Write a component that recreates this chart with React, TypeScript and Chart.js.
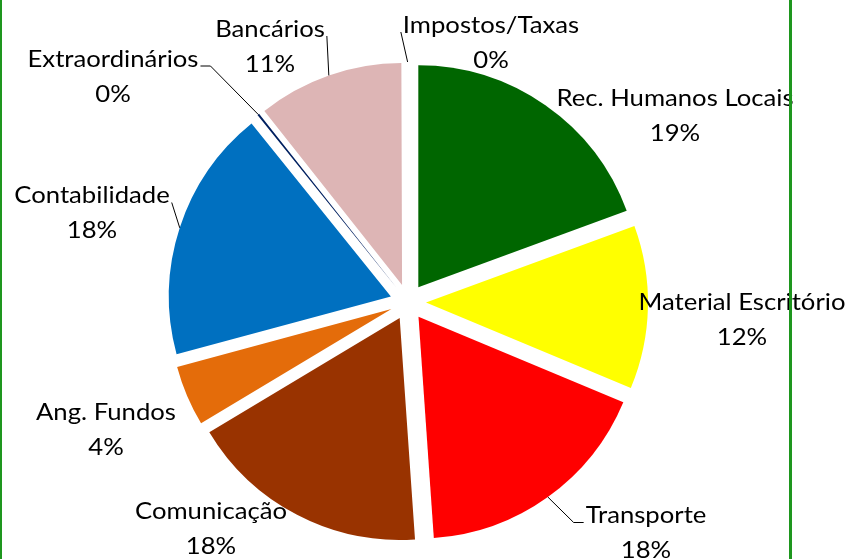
import React, { useEffect, useRef } from 'react';
import { Chart, registerables } from 'chart.js';

Chart.register(...registerables);

// ---- data ----
const categories = [
  'Rec. Humanos Locais',
  'Material Escritório',
  'Transporte',
  'Comunicação',
  'Ang. Fundos',
  'Contabilidade',
  'Extraordinários',
  'Bancários',
  'Impostos/Taxas',
];
const values = [19.4, 11.9, 17.6, 17.5, 4.4, 18.4, 0.15, 10.6, 0.05];
const colors = ['#006600', '#FFFF00', '#FF0000', '#993300', '#E46C0A', '#0070C0', '#002060', '#DDB5B5', '#FFFFFF'];

// ---- layout ----
const EXPLODE = 18;
const RADIUS = 222;
const LABEL_OFFSETS: number[][] = [
  [267, -186],
  [334, 18],
  [238, 231],
  [-197, 227],
  [-302, 128],
  [-316, -89],
  [-295, -225.5],
  [-138, -255.5],
  [83, -259.5],
];
// 0 none, 1 straight leader, 2 leader with horizontal stub
const LEADER = [0, 0, 2, 0, 0, 1, 2, 1, 1];
const FONT = '24px Lato';
const LINE_GAP = 35;
const TEXT_SX = 1.07;
const FRAME_COLOR = '#1E961E';

const explodePlugin = {
  id: 'explodePie',
  beforeDatasetDraw(chart: any, args: any) {
    const ctx = chart.ctx;
    args.meta.data.forEach((arc: any) => {
      const p = arc.getProps(['startAngle', 'endAngle'], true);
      const mid = (p.startAngle + p.endAngle) / 2;
      ctx.save();
      ctx.translate(Math.cos(mid) * EXPLODE, Math.sin(mid) * EXPLODE);
      arc.draw(ctx);
      ctx.restore();
    });
    return false;
  },
  afterDatasetsDraw(chart: any) {
    const ctx = chart.ctx;
    const meta = chart.getDatasetMeta(0);
    const total = values.reduce((a, b) => a + b, 0);
    meta.data.forEach((arc: any, i: number) => {
      const { x, y, startAngle, endAngle, outerRadius } = arc.getProps(
        ['x', 'y', 'startAngle', 'endAngle', 'outerRadius'],
        true
      );
      const mid = (startAngle + endAngle) / 2;
      const ax = x + Math.cos(mid) * (outerRadius + EXPLODE);
      const ay = y + Math.sin(mid) * (outerRadius + EXPLODE);
      const cx = x + LABEL_OFFSETS[i][0];
      const cy = y + LABEL_OFFSETS[i][1];
      const l1y = cy - LINE_GAP / 2;
      const l2y = cy + LINE_GAP / 2;
      const name = categories[i];
      const pct = Math.round((values[i] / total) * 100) + '%';
      ctx.save();
      ctx.font = FONT;
      ctx.fillStyle = '#000';
      ctx.textAlign = 'center';
      ctx.textBaseline = 'middle';
      const drawText = (t: string, tx: number, ty: number) => {
        ctx.save();
        ctx.translate(tx, ty);
        ctx.scale(TEXT_SX, 1);
        ctx.fillText(t, 0, 0);
        ctx.restore();
      };
      drawText(name, cx, l1y);
      drawText(pct, cx, l2y);
      if (LEADER[i]) {
        const w = ctx.measureText(name).width * TEXT_SX;
        const right = ax > cx;
        const sx = right ? cx + w / 2 + 2 : cx - w / 2 - 2;
        const sy = l1y + 7;
        ctx.beginPath();
        ctx.moveTo(sx, sy);
        if (LEADER[i] === 2) {
          ctx.lineTo(sx + (right ? 10 : -10), sy);
        }
        ctx.lineTo(ax, ay);
        ctx.strokeStyle = '#000';
        ctx.lineWidth = 1;
        ctx.stroke();
      }
      ctx.restore();
    });
  },
  afterDraw(chart: any) {
    const ctx = chart.ctx;
    ctx.save();
    ctx.fillStyle = FRAME_COLOR;
    ctx.fillRect(0, 0, 2, chart.height);
    ctx.fillRect(789, 0, 3, chart.height);
    ctx.restore();
  },
};

export default function App() {
  const ref = useRef<HTMLCanvasElement | null>(null);
  useEffect(() => {
    if (!ref.current) return;
    const chart = new Chart(ref.current, {
      type: 'pie',
      data: {
        labels: categories,
        datasets: [
          {
            data: values,
            backgroundColor: colors,
            borderWidth: 0,
          },
        ],
      },
      options: {
        responsive: false,
        animation: false,
        radius: RADIUS,
        layout: { padding: { left: 0, right: 34, top: 45, bottom: 0 } },
        plugins: {
          legend: { display: false },
          tooltip: { enabled: false },
        },
      } as any,
      plugins: [explodePlugin as any],
    });
    return () => chart.destroy();
  }, []);
  return (
    <div style={{ position: 'fixed', left: 0, top: 0, width: 850, height: 559, background: '#fff' }}>
      <canvas ref={ref} width={850} height={559} style={{ width: 850, height: 559, display: 'block' }} />
    </div>
  );
}
